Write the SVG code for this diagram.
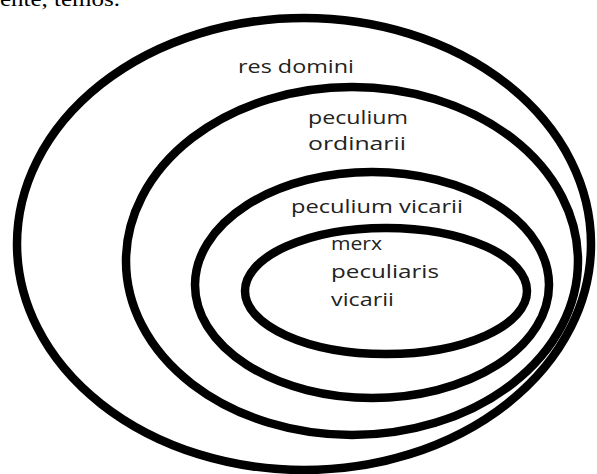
<svg xmlns="http://www.w3.org/2000/svg" width="597" height="474" viewBox="0 0 597 474">
<style>
.ring{fill:none;stroke:#000;stroke-width:8.5}
.lbl{font-family:"Open Sans","Noto Sans",sans-serif;font-size:19px;fill:#222}
.top{font-family:"Liberation Serif","Times New Roman",serif;font-size:22px;fill:#000}
</style>
<rect width="597" height="474" fill="#fff"/>
<text class="top" x="0" y="6" textLength="120" lengthAdjust="spacingAndGlyphs">ente, temos.</text>
<g id="res-domini">
<ellipse class="ring" cx="304" cy="244" rx="287" ry="226"/>
<text class="lbl" x="238" y="73" textLength="116" lengthAdjust="spacingAndGlyphs">res domini</text>
</g>
<g id="peculium-ordinarii">
<ellipse class="ring" cx="352" cy="261" rx="226" ry="174"/>
<text class="lbl" x="308" y="124" textLength="100" lengthAdjust="spacingAndGlyphs">peculium</text>
<text class="lbl" x="308" y="150" textLength="98" lengthAdjust="spacingAndGlyphs">ordinarii</text>
</g>
<g id="peculium-vicarii">
<ellipse class="ring" cx="372" cy="285" rx="177" ry="113"/>
<text class="lbl" x="291" y="213" textLength="172" lengthAdjust="spacingAndGlyphs">peculium vicarii</text>
</g>
<g id="merx-peculiaris-vicarii">
<ellipse class="ring" cx="386" cy="291" rx="141" ry="63"/>
<text class="lbl" x="331" y="250" textLength="51" lengthAdjust="spacingAndGlyphs">merx</text>
<text class="lbl" x="331" y="278" textLength="108" lengthAdjust="spacingAndGlyphs">peculiaris</text>
<text class="lbl" x="331" y="306" textLength="63" lengthAdjust="spacingAndGlyphs">vicarii</text>
</g>
<g id="connectors"/>
</svg>
